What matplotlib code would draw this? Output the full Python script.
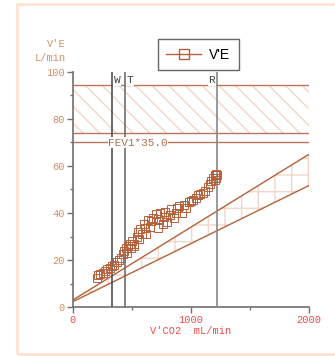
import matplotlib
matplotlib.use("Agg")
import matplotlib.pyplot as plt
from matplotlib.patches import Rectangle
from matplotlib.lines import Line2D

# ---- data ----
vco2 = [200, 215, 230, 250, 270, 290, 310, 330, 350, 370, 390, 410, 425, 435,
        445, 455, 465, 480, 490, 500, 515, 520, 540, 560, 570, 585, 600, 620,
        635, 650, 680, 700, 720, 740, 760, 780, 800, 830, 860, 880, 900, 920,
        940, 960, 980, 1000, 1020, 1040, 1060, 1080, 1100, 1120, 1140, 1160,
        1170, 1185, 1200, 1210, 1220, 1215, 1205, 550, 610, 660, 720, 770,
        820, 870]
ve = [12.5, 13.5, 14, 14.5, 15.5, 16, 16.5, 17.5, 18, 19, 20, 21, 22.5, 24,
      25, 23, 26, 27, 25, 28, 27, 26, 30, 29, 33, 31, 35.5, 31,
      37, 34, 38, 39.5, 33.5, 40, 35.5, 40.5, 36, 41.5, 37.7, 42, 43, 40,
      43.5, 42, 44.5, 45, 45.5, 46.5, 47.5, 48, 48.5, 49.5, 51, 52.5,
      53.5, 55, 56, 56.5, 56, 55, 54, 32, 33.5, 36.5, 37.5, 38.5,
      39, 40]

line_x = [0, 2000]
upper_line = [3.0, 65.0]
lower_line = [2.3, 51.7]

band_top = 94.5
band_bottom = 74.0
fev1_line = 70.0

markers = {"W": 333, "T": 438, "R": 1220}

xticks = [0, 1000, 2000]
yticks = [0, 20, 40, 60, 80, 100]

brown = "#b5603a"
hatch_col = "#f2d6c8"

fig = plt.figure(figsize=(3.35, 3.56), dpi=100)
fig.patches.append(Rectangle((17 / 335, 1 - 354 / 356), 1.2, (354 - 4) / 356,
                             transform=fig.transFigure, fill=False,
                             edgecolor="#fde3d2", linewidth=2.0))
ax = fig.add_axes([73 / 335, 1 - 307 / 356, 236 / 335, 235 / 356])
ax.set_xlim(0, 2000)
ax.set_ylim(0, 100)

# hatched band
ax.fill_between(line_x, [band_bottom] * 2, [band_top] * 2, facecolor="none",
                edgecolor=hatch_col, hatch="\\\\", linewidth=0, zorder=1)
for yv in (band_top, band_bottom, fev1_line):
    ax.axhline(yv, color="#b87858", linewidth=1.0, zorder=2)

# crosshatch between diagonal lines
ax.fill_between(line_x, lower_line, upper_line, facecolor="none",
                edgecolor=hatch_col, hatch="+", linewidth=0, zorder=1)
ax.plot(line_x, upper_line, color=brown, linewidth=1.0, zorder=3)
ax.plot(line_x, lower_line, color=brown, linewidth=1.0, zorder=3)

# vertical marker lines
vcols = {"W": "#505050", "T": "#707070", "R": "#888888"}
for name, xv in markers.items():
    ax.axvline(xv, color=vcols[name], linewidth=1.2, zorder=4)
mono = "Liberation Mono"
ax.text(markers["W"] + 15, 96.5, "W", ha="left", va="center", family=mono,
        fontsize=8, color="#404040", zorder=5,
        bbox=dict(facecolor="white", edgecolor="none", pad=0.6))
ax.text(markers["T"] + 15, 96.5, "T", ha="left", va="center", family=mono,
        fontsize=8, color="#404040", zorder=5,
        bbox=dict(facecolor="white", edgecolor="none", pad=0.6))
ax.text(markers["R"] - 15, 96.5, "R", ha="right", va="center", family=mono,
        fontsize=8, color="#404040", zorder=5,
        bbox=dict(facecolor="white", edgecolor="none", pad=0.6))
ax.text(300, fev1_line, "FEV1*35.0", ha="left", va="center", family=mono,
        fontsize=8, color="#b07050", zorder=5,
        bbox=dict(facecolor="white", edgecolor="none", pad=0.3))

# scatter
ax.plot(vco2, ve, linestyle="none", marker="s", markersize=5.5,
        markerfacecolor="none", markeredgecolor=brown, markeredgewidth=0.7,
        zorder=6)

# axes styling
for s in ("top", "right"):
    ax.spines[s].set_visible(False)
for s in ("left", "bottom"):
    ax.spines[s].set_color("#707070")
    ax.spines[s].set_linewidth(1.2)
ax.set_xticks(xticks)
ax.set_xticks([500, 1500], minor=True)
ax.set_yticks(yticks)
ax.set_yticks([10, 30, 50, 70, 90], minor=True)
ax.set_xticklabels([str(v) for v in xticks], family=mono, fontsize=7.5,
                   color="#f04a4a")
ax.set_yticklabels([str(v) for v in yticks], family=mono, fontsize=7.5,
                   color="#d49064")
ax.tick_params(axis="both", which="major", length=4, width=1, color="#707070",
               pad=2)
ax.tick_params(axis="both", which="minor", length=2.5, width=1,
               color="#707070")

fig.text(191 / 335, 1 - 331 / 356, "V'CO2  mL/min", ha="center", va="center",
         family=mono, fontsize=7.5, color="#f04a4a")
fig.text(66 / 335, 1 - 44 / 356, "V'E", ha="right", va="center",
         family=mono, fontsize=7.5, color="#d49064")
fig.text(66 / 335, 1 - 58 / 356, "L/min", ha="right", va="center",
         family=mono, fontsize=7.5, color="#d49064")

handle = Line2D([], [], color=brown, linewidth=1.0, marker="s",
                markersize=7, markerfacecolor="none", markeredgecolor=brown)
leg = fig.legend([handle], ["V'E"], loc="lower left",
                 bbox_to_anchor=(158 / 335, 1 - 70 / 356),
                 borderaxespad=0, frameon=True, fancybox=False,
                 prop={"family": "Liberation Sans", "size": 10},
                 handlelength=2.5, borderpad=0.6, handletextpad=0.6)
leg.get_frame().set_edgecolor("#404040")
leg.get_frame().set_linewidth(1.0)

fig.savefig("out.png", dpi=100)
